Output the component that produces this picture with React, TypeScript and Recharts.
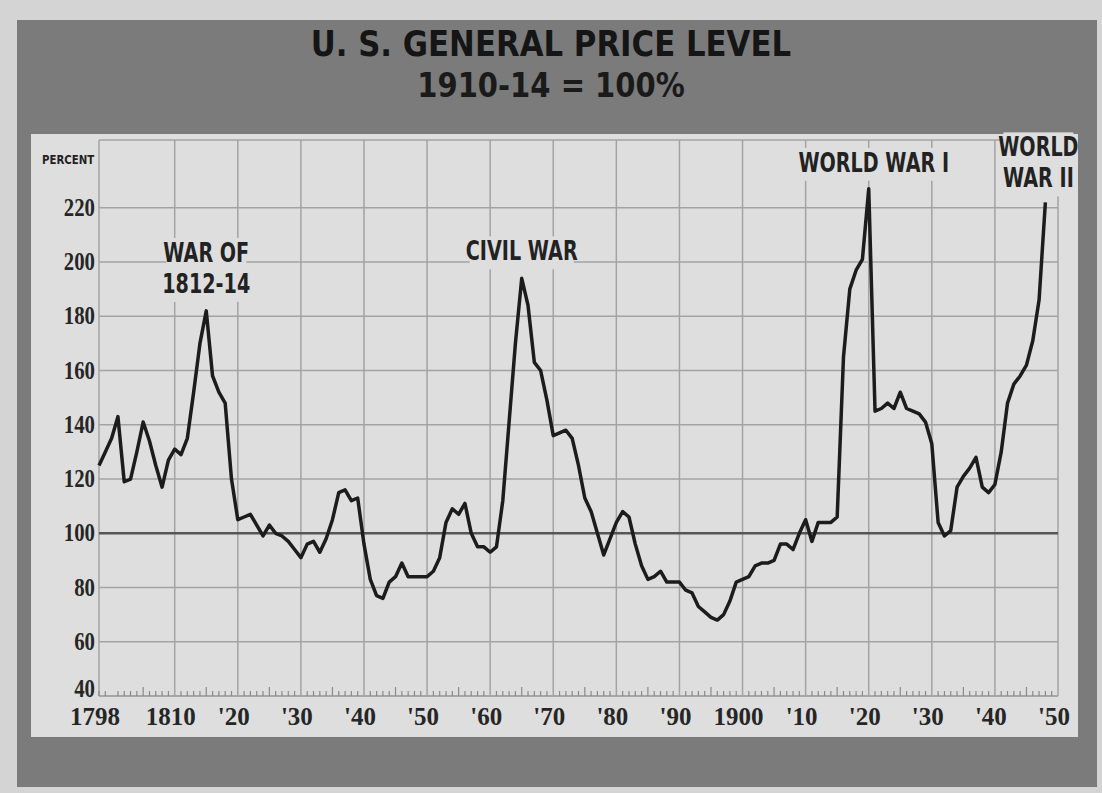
import * as React from "react";
import {
  LineChart,
  Line,
  XAxis,
  YAxis,
  CartesianGrid,
  ReferenceLine,
  ReferenceDot,
} from "recharts";

// index of general prices, 1910-14 = 100, one value per year from 1798
const startYear = 1798;
const priceLevel = [
  125, 130, // 1798-99
  135, 143, 119, 120, 130, 141, 134, 125, 117, 127, // 1800s
  131, 129, 135, 152, 170, 182, 158, 152, 148, 120, // 1810s
  105, 106, 107, 103, 99, 103, 100, 99, 97, 94, // 1820s
  91, 96, 97, 93, 98, 105, 115, 116, 112, 113, // 1830s
  96, 83, 77, 76, 82, 84, 89, 84, 84, 84, // 1840s
  84, 86, 91, 104, 109, 107, 111, 100, 95, 95, // 1850s
  93, 95, 112, 141, 170, 194, 184, 163, 160, 149, // 1860s
  136, 137, 138, 135, 125, 113, 108, 100, 92, 98, // 1870s
  104, 108, 106, 96, 88, 83, 84, 86, 82, 82, // 1880s
  82, 79, 78, 73, 71, 69, 68, 70, 75, 82, // 1890s
  83, 84, 88, 89, 89, 90, 96, 96, 94, 100, // 1900s
  105, 97, 104, 104, 104, 106, 165, 190, 197, 201, // 1910s
  227, 145, 146, 148, 146, 152, 146, 145, 144, 141, // 1920s
  133, 104, 99, 101, 117, 121, 124, 128, 117, 115, // 1930s
  118, 130, 148, 155, 158, 162, 171, 186, 222, // 1940-48
];

const labelYears = [1798, 1810, 1820, 1830, 1840, 1850, 1860, 1870, 1880, 1890, 1900, 1910, 1920, 1930, 1940, 1950];
const xLabels = ["1798", "1810", "'20", "'30", "'40", "'50", "'60", "'70", "'80", "'90", "1900", "'10", "'20", "'30", "'40", "'50"];
const gridYears = [1798, 1810, 1820, 1830, 1840, 1850, 1860, 1870, 1880, 1890, 1900, 1910, 1920, 1930, 1940, 1950];
const yTicks = [40, 60, 80, 100, 120, 140, 160, 180, 200, 220];

const data = priceLevel.map((v, i) => ({ year: startYear + i, value: v }));
const yearTicks: number[] = [];
for (let y = 1798; y <= 1950; y++) yearTicks.push(y);

const INK = "#1c1c1c";
const PANEL = "#dedede";
const GRID = "#a3a3a3";
const sans = "'DejaVu Sans', 'Liberation Sans', sans-serif";
const serif = "'Liberation Serif', 'DejaVu Serif', serif";

const XTick = ({ x, y, payload }: any) => {
  const yr = payload.value;
  const idx = labelYears.indexOf(yr);
  const len = yr % 10 === 0 ? 0 : yr % 5 === 0 ? 9 : 5;
  return (
    <g>
      {len > 0 && <line x1={x} x2={x} y1={y} y2={y - len} stroke="#8a8a8a" strokeWidth={1.2} />}
      {idx >= 0 && (
        <text x={x - 4} y={y + 29} textAnchor="middle" fontFamily={serif} fontWeight="bold" fontSize={25} fill="#262626">
          {xLabels[idx]}
        </text>
      )}
    </g>
  );
};

const YTick = ({ x, y, payload }: any) => {
  // bottom label sits a little above its line, as in the print
  const lift = payload.value === 40 ? -7 : 0;
  return (
    <g transform={`translate(${x - 4},${y + lift}) scale(0.8,1)`}>
      <text x={0} y={0} dy={8} textAnchor="end" fontFamily={serif} fontWeight="bold" fontSize={26} fill="#262626">
        {payload.value}
      </text>
    </g>
  );
};

const labelShape = (lines: string[], dx: number, dy: number, w: number) => (p: any) => {
  const cx = p.cx + dx;
  const top = p.cy + dy;
  return (
    <g>
      <rect x={cx - w / 2} y={top - 2} width={w} height={lines.length * 31 + 2} fill={PANEL} />
      <g transform={`translate(${cx},${top}) scale(0.71,1)`}>
        {lines.map((t, i) => (
          <text key={i} x={0} y={22 + i * 31} textAnchor="middle" fontFamily={sans} fontWeight="bold" fontSize={27} fill="#222">
            {t}
          </text>
        ))}
      </g>
    </g>
  );
};

export default function App() {
  return (
    <div style={{ position: "absolute", left: 0, top: 0, width: 1102, height: 793, background: "#d4d4d4", overflow: "hidden" }}>
      <div style={{ position: "absolute", left: 17, top: 20, width: 1080, height: 767, background: "#7b7b7b" }} />
      <div style={{ position: "absolute", left: 0, top: 24, width: 1102, textAlign: "center", fontFamily: sans, fontWeight: "bold", fontSize: 35, color: "#151515" }}>
        <span style={{ display: "inline-block", transform: "scaleX(0.88)" }}>U. S. GENERAL PRICE LEVEL</span>
      </div>
      <div style={{ position: "absolute", left: 0, top: 66, width: 1102, textAlign: "center", fontFamily: sans, fontWeight: "bold", fontSize: 33, color: "#1a1a1a" }}>
        <span style={{ display: "inline-block", transform: "scaleX(0.88)" }}>1910-14 = 100%</span>
      </div>
      <div style={{ position: "absolute", left: 31, top: 134, width: 1047, height: 603, background: PANEL }} />
      <div style={{ position: "absolute", left: 42, top: 153, fontFamily: sans, fontWeight: "bold", fontSize: 12, color: "#222" }}>
        <span style={{ display: "inline-block", transform: "scaleX(0.85)", transformOrigin: "left" }}>PERCENT</span>
      </div>
      <div style={{ position: "absolute", left: 0, top: 0 }}>
        <LineChart width={1102} height={793} data={data} margin={{ top: 140, right: 44, left: 39, bottom: 57 }}>
          <CartesianGrid vertical={false} stroke={GRID} strokeWidth={1.5} />
          <XAxis
            dataKey="year"
            type="number"
            domain={[1798, 1950]}
            ticks={yearTicks}
            interval={0}
            tick={XTick}
            tickLine={false}
            tickSize={0}
            tickMargin={0}
            axisLine={{ stroke: GRID, strokeWidth: 1.5 }}
            height={40}
          />
          <YAxis
            type="number"
            domain={[40, 245]}
            ticks={yTicks}
            interval={0}
            tick={YTick}
            tickLine={false}
            tickSize={0}
            tickMargin={0}
            axisLine={false}
            width={60}
          />
          {gridYears.map((yr) => (
            <ReferenceLine key={yr} x={yr} stroke={GRID} strokeWidth={1.5} />
          ))}
          <ReferenceLine y={100} stroke="#555" strokeWidth={2.5} />
          <ReferenceDot x={1815} y={182} r={0} shape={labelShape(["WAR OF", "1812-14"], 0, -71, 80)} />
          <ReferenceDot x={1865} y={194} r={0} shape={labelShape(["CIVIL WAR"], 0, -40, 104)} />
          <ReferenceDot x={1920} y={227} r={0} shape={labelShape(["WORLD WAR I"], 5, -39, 140)} />
          <ReferenceDot x={1948} y={222} r={0} shape={labelShape(["WORLD", "WAR II"], -7, -68, 70)} />
          <Line
            type="linear"
            dataKey="value"
            stroke={INK}
            strokeWidth={3.5}
            strokeLinejoin="round"
            dot={false}
            isAnimationActive={false}
          />
        </LineChart>
      </div>
    </div>
  );
}
